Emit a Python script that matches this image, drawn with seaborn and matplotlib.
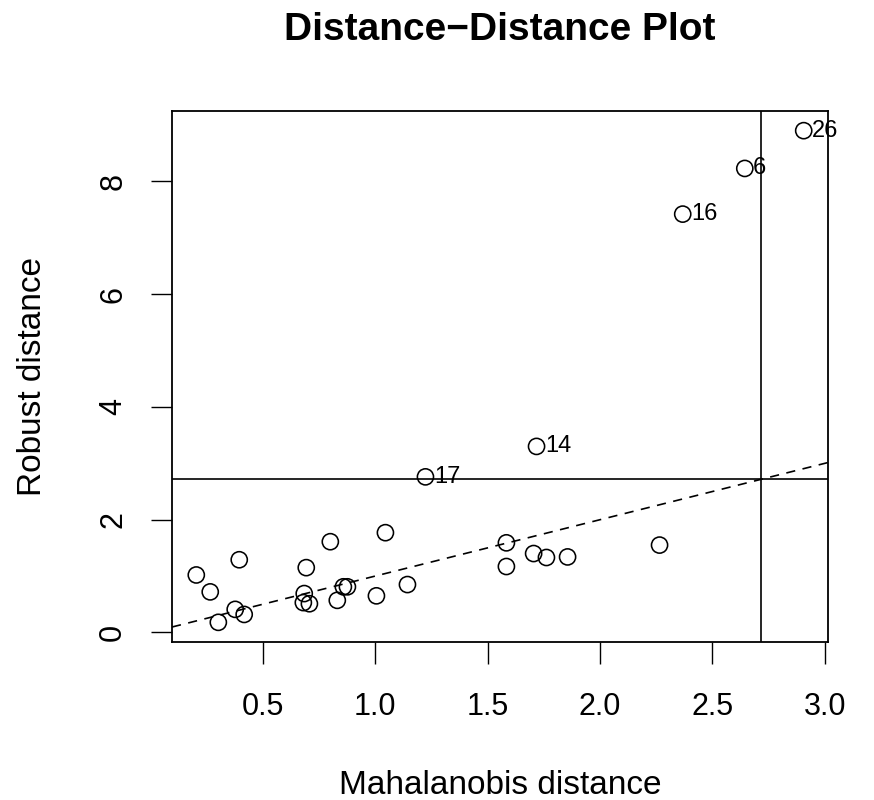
import matplotlib
matplotlib.use("Agg")
import matplotlib.pyplot as plt
import seaborn as sns
import numpy as np
import pandas as pd

# ---- data ----
mahalanobis = [0.205, 0.267, 0.303, 0.378, 0.396, 0.418, 0.694, 0.685, 0.681, 0.708,
               0.801, 0.832, 0.859, 0.877, 1.006, 1.046, 1.144, 1.224, 1.584, 1.584,
               1.705, 1.718, 1.762, 1.856, 2.265, 2.368, 2.644, 2.906]
robust = [1.02, 0.72, 0.18, 0.41, 1.29, 0.32, 1.15, 0.69, 0.53, 0.51,
          1.61, 0.57, 0.81, 0.81, 0.65, 1.77, 0.85, 2.76, 1.59, 1.17,
          1.40, 3.30, 1.33, 1.34, 1.55, 7.42, 8.23, 8.90]
# labels of the flagged observations: (index into arrays, label text)
label_idx = [17, 21, 25, 26, 27]
label_txt = ["17", "14", "16", "6", "26"]
cutoff = 2.716  # sqrt(chi2_0.975, df=2)

xticks = [0.5, 1.0, 1.5, 2.0, 2.5, 3.0]
xticklabels = ["0.5", "1.0", "1.5", "2.0", "2.5", "3.0"]
yticks = [0, 2, 4, 6, 8]
yticklabels = ["0", "2", "4", "6", "8"]

df = pd.DataFrame({"md": mahalanobis, "rd": robust})

plt.rcParams["font.family"] = ["Liberation Sans", "DejaVu Sans"]

fig = plt.figure(figsize=(8.74, 8.0), dpi=100)
ax = fig.add_axes([172 / 874, 1 - 642 / 800, (828 - 172) / 874, (642 - 111) / 800])

sns.scatterplot(data=df, x="md", y="rd", ax=ax, marker="o", s=135,
                facecolor="none", edgecolor="black", linewidth=1.15, zorder=3)

# R default axis ranges (4% extension)
xmin, xmax = min(mahalanobis), max(mahalanobis)
ymin, ymax = min(robust), max(robust)
ax.set_xlim(xmin - 0.04 * (xmax - xmin), xmax + 0.04 * (xmax - xmin))
ax.set_ylim(ymin - 0.04 * (ymax - ymin), ymax + 0.04 * (ymax - ymin))

ax.axhline(cutoff, color="black", lw=1.2, zorder=2)
ax.axvline(cutoff, color="black", lw=1.2, zorder=2)
ax.axline((0, 0), slope=1, color="black", lw=1.2, linestyle=(0, (5.5, 4.5)), zorder=2)

for i, t in zip(label_idx, label_txt):
    ax.annotate(t, (mahalanobis[i], robust[i]), xytext=(6, 0), textcoords="offset points",
                ha="left", va="center", fontsize=17, color="black")

ax.set_xticks(xticks)
ax.set_xticklabels(xticklabels)
ax.set_yticks(yticks)
ax.set_yticklabels(yticklabels, rotation=90, va="center")
ax.tick_params(axis="both", direction="out", length=16, width=1.0, labelsize=22,
               pad=20, colors="black")
ax.tick_params(axis="y", length=15, pad=16.5)
for sp in ax.spines.values():
    sp.set_linewidth(1.3)
    sp.set_color("black")

ax.set_xlabel("Mahalanobis distance", fontsize=24, labelpad=34.5)
ax.set_ylabel("Robust distance", fontsize=24, labelpad=36)
fig.text(500 / 874, 1 - 30 / 800, "Distance\u2212Distance Plot", ha="center", va="center",
         fontsize=28, fontweight="bold")

fig.savefig("out.png", dpi=100)
